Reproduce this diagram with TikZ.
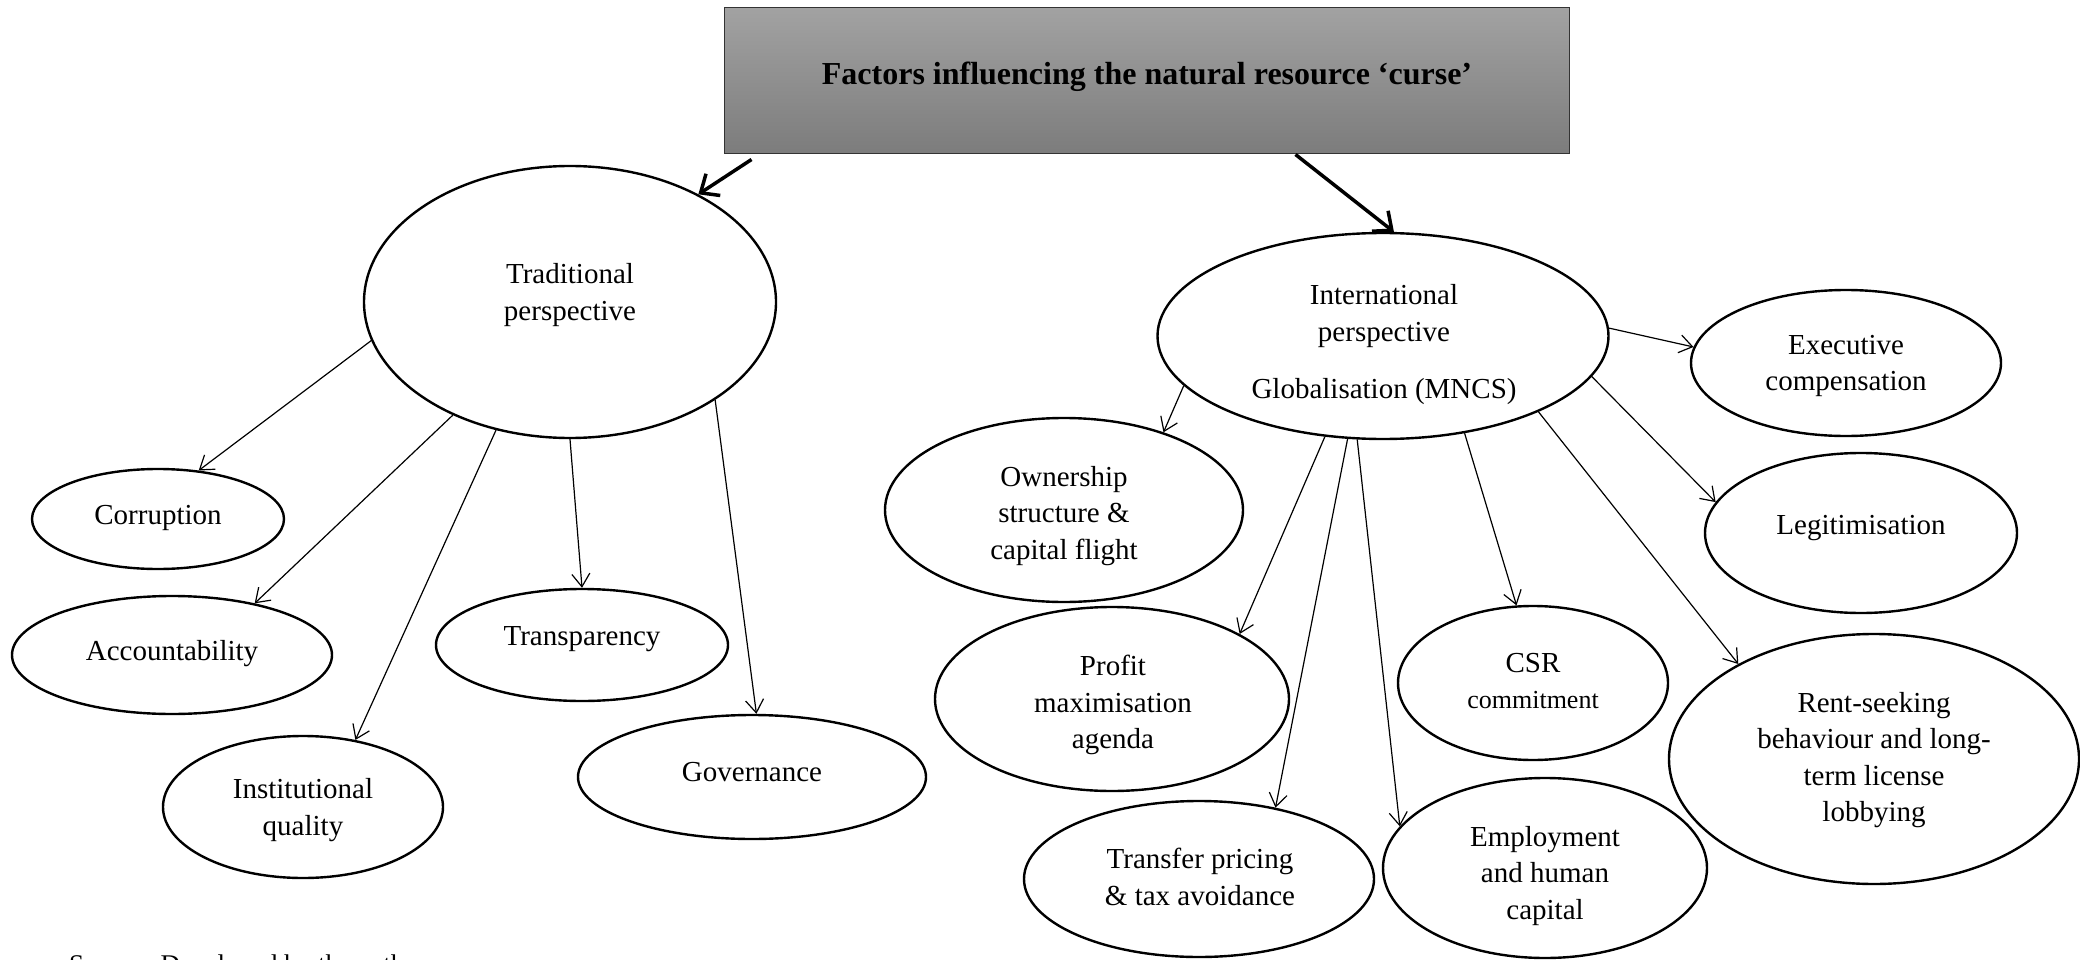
\documentclass[tikz,border=0pt]{standalone}
\usepackage{fontspec}
\setmainfont{Liberation Serif}
\usetikzlibrary{arrows.meta,shapes.geometric}
\begin{document}
\begin{tikzpicture}[x=1pt,y=-1pt,
  oval/.style={ellipse, draw, line width=2.4pt, inner sep=0pt},
  txt/.style={align=center, font=\fontsize{29}{36.5}\selectfont, inner sep=0pt},
  arr/.style={line width=1.2pt, -{Straight Barb[length=13pt,width=18pt,line width=1.2pt]}},
  bigarr/.style={line width=3.5pt, -{Straight Barb[length=15pt,width=26pt,line width=3.5pt]}},
  titlebox/.style={draw=black!80, line width=1pt, top color={rgb,255:red,162;green,162;blue,162}, bottom color={rgb,255:red,124;green,124;blue,124}, inner sep=0pt}
]
\useasboundingbox (0,0) rectangle (2080,960);

% title
\node[titlebox, minimum width=845pt, minimum height=146pt] (title) at (1146.5,81) {};
\node[font=\bfseries\fontsize{32}{38}\selectfont, inner sep=0pt] (titleT) at (1147,77) {Factors influencing the natural resource ‘curse’};

% main ellipses
\node[oval, minimum width=412pt, minimum height=272pt] (trad) at (570,302) {};
\node[txt] (tradT) at (570,295) {Traditional\\perspective};
\node[oval, minimum width=451pt, minimum height=206pt] (intl) at (1383,336) {};
\node[txt] (intlT) at (1384,345) {International\\perspective\\[21pt]Globalisation (MNCS)};

% traditional children
\node[oval, minimum width=252pt, minimum height=100pt] (corr) at (158,519) {};
\node[txt] (corrT) at (158,518) {Corruption};
\node[oval, minimum width=320pt, minimum height=118pt] (acc) at (172,655) {};
\node[txt] (accT) at (172,654) {Accountability};
\node[oval, minimum width=280pt, minimum height=142pt] (inst) at (303,807) {};
\node[txt] (instT) at (303,810) {Institutional\\quality};
\node[oval, minimum width=292pt, minimum height=112pt] (transp) at (582,645) {};
\node[txt] (transpT) at (582,639) {Transparency};
\node[oval, minimum width=348pt, minimum height=124pt] (gov) at (752,777) {};
\node[txt] (govT) at (752,772) {Governance};

% international children
\node[oval, minimum width=358pt, minimum height=184pt] (own) at (1064,510) {};
\node[txt] (ownT) at (1064,516) {Ownership\\structure \&\\capital flight};
\node[oval, minimum width=354pt, minimum height=184pt] (prof) at (1112,699) {};
\node[txt] (profT) at (1113,705) {Profit\\maximisation\\agenda};
\node[oval, minimum width=350pt, minimum height=156pt] (trans) at (1199,879) {};
\node[txt] (transT) at (1200,877) {Transfer pricing\\\& tax avoidance};
\node[oval, minimum width=270pt, minimum height=154pt] (csr) at (1533,683) {};
\node[txt] (csrT) at (1533,681) {CSR\\{\fontsize{26}{30}\selectfont commitment}};
\node[oval, minimum width=324pt, minimum height=180pt] (emp) at (1545,868) {};
\node[txt] (empT) at (1545,876) {Employment\\and human\\capital};
\node[oval, minimum width=310pt, minimum height=146pt] (exec) at (1846,363) {};
\node[txt] (execT) at (1846,366) {Executive\\compensation};
\node[oval, minimum width=312pt, minimum height=160pt] (legit) at (1861,533) {};
\node[txt] (legitT) at (1861,528) {Legitimisation};
\node[oval, minimum width=410pt, minimum height=250pt] (rent) at (1874,759) {};
\node[txt] (rentT) at (1874,760) {Rent-seeking\\behaviour and long-\\term license\\lobbying};

% source
\node[anchor=base west, font=\fontsize{27}{32}\selectfont, inner sep=0pt] (src) at (69,973) {Source: Developed by the authors};

% connectors
\draw[bigarr] ([xshift=28pt,yshift=-5pt]title.south west) -- (trad.40);
\draw[bigarr] ([xshift=572pt]title.south west) -- (intl.84);

\draw[arr] (trad.191.5) -- (corr.50);
\draw[arr] (trad.224.7) -- (acc.32);
\draw[arr] (trad.240.6) -- (inst.52);
\draw[arr] (trad.270) -- (transp.90);
\draw[arr] (trad.326.7) -- (gov.86);

\draw[arr] (intl.194.7) -- (own.38.7);
\draw[arr] (intl.240.4) -- (prof.27.3);
\draw[arr] (intl.251.2) -- (trans.43.4);
\draw[arr] (intl.256.4) -- (emp.164.9);
\draw[arr] (intl.310.4) -- (csr.102.5);
\draw[arr] (intl.334.9) -- (rent.145.4);
\draw[arr] (intl.349) -- (legit.168.5);
\draw[arr] (intl.2.8) -- (exec.174.7);
\end{tikzpicture}
\end{document}
